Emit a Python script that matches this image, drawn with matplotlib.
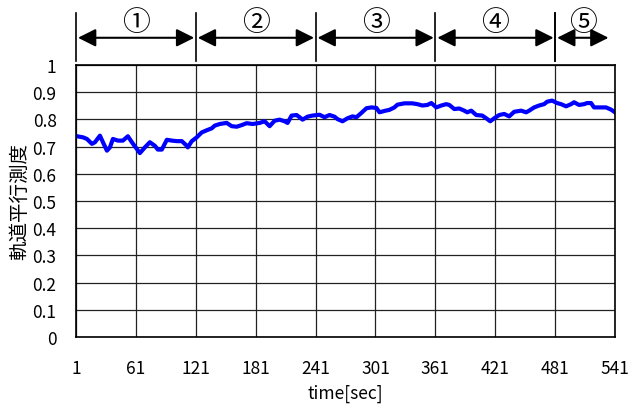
import matplotlib.pyplot as plt
import matplotlib.transforms as mtransforms

plt.rcParams['font.family'] = ['Noto Sans CJK JP', 'DejaVu Sans']

# readings (time in sec, value)
t = [2, 8, 12, 17, 20, 25, 28, 32, 35, 38, 43, 48, 53, 57, 62, 65, 70, 75, 80, 83,
     87, 92, 97, 102, 107, 112, 113, 117, 122, 125, 127, 132, 137, 140, 145, 152, 157,
     162, 167, 172, 178, 185, 190, 195, 200, 205, 210, 213, 217, 222, 225, 228, 233,
     238, 245, 250, 255, 260, 263, 268, 273, 278, 282, 287, 292, 297, 302, 305, 310,
     315, 320, 323, 330, 338, 343, 348, 353, 357, 362, 367, 372, 375, 380, 385, 390,
     393, 397, 402, 408, 412, 416, 420, 425, 430, 435, 440, 447, 452, 455, 460, 465,
     470, 473, 478, 483, 487, 492, 497, 500, 505, 510, 513, 517, 520, 525, 532, 537, 541]
v = [0.738, 0.734, 0.728, 0.71, 0.716, 0.74, 0.716, 0.685, 0.697, 0.728, 0.722, 0.722,
     0.738, 0.716, 0.691, 0.676, 0.697, 0.716, 0.703, 0.689, 0.689, 0.725, 0.722, 0.72,
     0.72, 0.703, 0.697, 0.72, 0.734, 0.745, 0.752, 0.76, 0.767, 0.777, 0.783, 0.787,
     0.775, 0.773, 0.779, 0.786, 0.783, 0.787, 0.793, 0.775, 0.795, 0.799, 0.793, 0.787,
     0.814, 0.816, 0.808, 0.799, 0.81, 0.814, 0.817, 0.808, 0.816, 0.81, 0.801, 0.793,
     0.804, 0.811, 0.808, 0.824, 0.841, 0.844, 0.842, 0.826, 0.831, 0.835, 0.844, 0.854,
     0.859, 0.859, 0.856, 0.851, 0.853, 0.86, 0.844, 0.851, 0.856, 0.853, 0.838, 0.84,
     0.832, 0.826, 0.832, 0.816, 0.814, 0.804, 0.793, 0.804, 0.816, 0.82, 0.811, 0.828,
     0.832, 0.826, 0.832, 0.844, 0.851, 0.856, 0.865, 0.869, 0.86, 0.856, 0.848, 0.856,
     0.863, 0.853, 0.856, 0.86, 0.86, 0.844, 0.844, 0.844, 0.836, 0.826]

xticks = [1, 61, 121, 181, 241, 301, 361, 421, 481, 541]
yticks = [0, 0.1, 0.2, 0.3, 0.4, 0.5, 0.6, 0.7, 0.8, 0.9, 1]
ytick_labels = ['0', '0.1', '0.2', '0.3', '0.4', '0.5', '0.6', '0.7', '0.8', '0.9', '1']

# phase sections above the chart
seg_start = [1, 121, 241, 361, 481]
seg_end = [121, 241, 361, 481, 536]
seg_labels = ['①', '②', '③', '④', '⑤']

fig = plt.figure(figsize=(6.3, 4.06), dpi=100)
ax = fig.add_axes([0.1206, 0.1675, 0.8556, 0.67])

ax.plot(t, v, color='#0000ff', lw=3, solid_joinstyle='round')

ax.set_xlim(1, 541)
ax.set_ylim(0, 1)
ax.set_xticks(xticks)
ax.set_xticklabels([str(x) for x in xticks])
ax.set_yticks(yticks)
ax.set_yticklabels(ytick_labels)
ax.tick_params(length=0, labelsize=12.5, colors='black')
ax.tick_params(axis='x', pad=16)
ax.tick_params(axis='y', pad=14)
ax.grid(True, color='#222222', lw=0.9)
for s in ax.spines.values():
    s.set_color('black')
    s.set_linewidth(1.2)

ax.set_xlabel('time[sec]', fontsize=12.5, labelpad=5)
ax.set_ylabel('軌道平行測度', fontsize=14, labelpad=2)

trans = mtransforms.blended_transform_factory(ax.transData, ax.transAxes)
for x in seg_start + [481]:
    ax.plot([x, x], [1.015, 1.19], transform=trans, color='black', lw=1.2, clip_on=False)
for a, b, lab in zip(seg_start, seg_end, seg_labels):
    ax.annotate('', xy=(b - 1.5, 1.10), xytext=(a + 2, 1.10), xycoords=trans, textcoords=trans,
                arrowprops=dict(arrowstyle='<|-|>', mutation_scale=27, color='black',
                                lw=1.5, shrinkA=0, shrinkB=0))
    ax.text((a + b) / 2, 1.158, lab, transform=trans, ha='center', va='center', fontsize=20)

fig.savefig('out.png', dpi=100)
